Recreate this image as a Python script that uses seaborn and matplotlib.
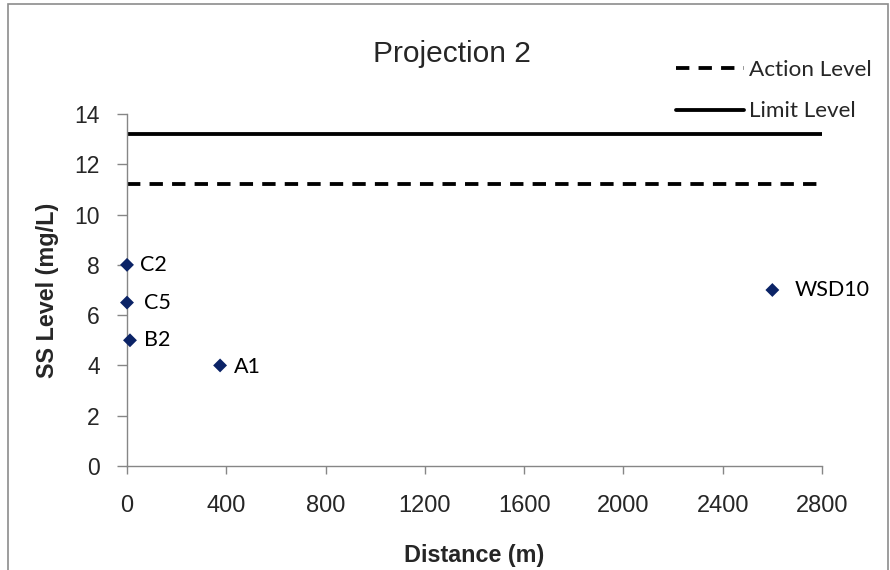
import matplotlib
matplotlib.use("Agg")
import matplotlib.pyplot as plt
import seaborn as sns
import pandas as pd
from matplotlib.patches import Rectangle

# Data
stations = ["C2", "C5", "B2", "A1", "WSD10"]
distance = [0, 0, 12, 375, 2600]
ss_level = [8.0, 6.5, 5.0, 4.0, 7.0]
level_x = [0, 2800]
action_level = [11.2, 11.2]
limit_level = [13.2, 13.2]
x_ticks = [0, 400, 800, 1200, 1600, 2000, 2400, 2800]
y_ticks = [0, 2, 4, 6, 8, 10, 12, 14]

sns.set_style("white")
plt.rcParams['font.family'] = ['Liberation Sans', 'DejaVu Sans']

fig = plt.figure(figsize=(8.9, 5.7), dpi=100)
ax = fig.add_axes([127/890, 104/570, (822-127)/890, (466-114)/570])

df = pd.DataFrame({"Distance": distance, "SS": ss_level, "Station": stations})
lv = pd.DataFrame({"x": level_x, "action": action_level, "limit": limit_level})

ax.plot(lv["x"], lv["action"], color="black", lw=2.75, linestyle=(0, (3.5, 2.4)),
        label="Action Level", zorder=2)
ax.plot(lv["x"], lv["limit"], color="black", lw=2.75, label="Limit Level", zorder=2)
sns.scatterplot(data=df, x="Distance", y="SS", marker="D", s=50, color="#0b2366",
                edgecolor="none", ax=ax, zorder=3, legend=False, clip_on=False)

offsets = {"C2": (13, 0), "C5": (17, 0), "B2": (14, 0), "A1": (14, -2), "WSD10": (22, 0)}
for s, xv, yv in zip(stations, distance, ss_level):
    dx, dy = offsets[s]
    ax.annotate(s, (xv, yv), xytext=(dx, dy), textcoords="offset pixels",
                ha="left", va="center", fontsize=15.5, family=["Lato", "DejaVu Sans"],
                color="black")

ax.set_xlim(0, 2800)
ax.set_ylim(0, 14)
ax.set_xticks(x_ticks)
ax.set_yticks(y_ticks)
ax.tick_params(axis="both", width=1, color="#868686",
               direction="out", left=True, bottom=True)
ax.tick_params(axis="x", labelsize=17, length=6, pad=15)
ax.tick_params(axis="y", labelsize=16.5, length=7, pad=12.5)
for side in ["top", "right"]:
    ax.spines[side].set_visible(False)
for side in ["left", "bottom"]:
    ax.spines[side].set_color("#868686")
    ax.spines[side].set_linewidth(1)

ax.set_xlabel("Distance (m)", fontsize=16.8, fontweight="bold", labelpad=19)
ax.set_ylabel("SS Level (mg/L)", fontsize=16.8, fontweight="bold", labelpad=11)
fig.text(452/890, 1 - 62/570, "Projection 2", ha="center", va="baseline", fontsize=21.5)

leg = ax.legend(loc="upper left", bbox_to_anchor=(676/890, 1 - 60/570),
                bbox_transform=fig.transFigure, frameon=False,
                prop={"family": ["Lato", "DejaVu Sans"], "size": 16.2},
                handlelength=3.0, handletextpad=0.25, labelspacing=0.95,
                borderaxespad=0, borderpad=0)

fig.patches.append(Rectangle((8/890, -0.02), (888-8)/890, 1 - 4/570 + 0.02,
                             transform=fig.transFigure, fill=False,
                             edgecolor="#8c8c8c", lw=1.2))

fig.savefig("out.png", dpi=100)
